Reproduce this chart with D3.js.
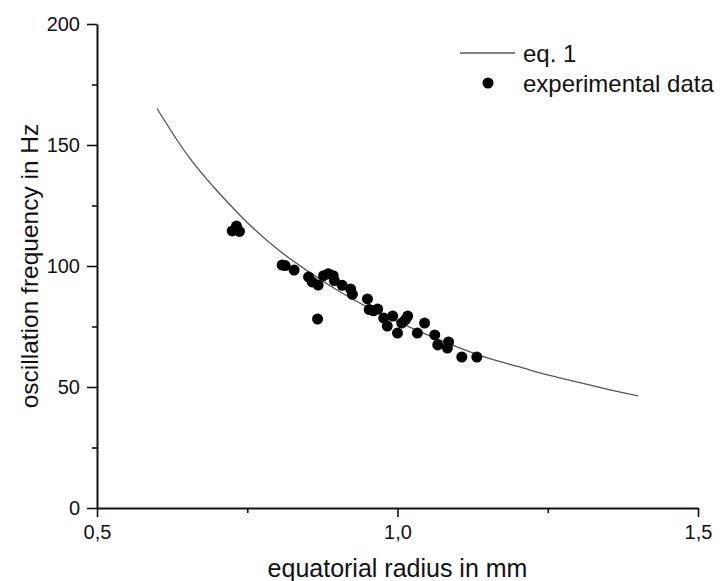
<!DOCTYPE html>
<html>
<head>
<meta charset="utf-8">
<script src="https://cdn.jsdelivr.net/npm/d3@7"></script>
<style>
  body { margin: 0; background: #fff; }
  text { font-family: "Liberation Sans", Arial, sans-serif; fill: #111; }
</style>
</head>
<body>
<div id="chart"></div>
<script>
// equation curve
const curveRadius = [0.6, 0.65, 0.7, 0.75, 0.8, 0.85, 0.9, 0.95, 1.0, 1.05, 1.1, 1.15, 1.2, 1.25, 1.3, 1.35, 1.4];
const curveFreq   = [165, 146, 131, 118, 107, 98, 90, 83, 77, 71.5, 66.5, 62, 58.5, 55, 52, 49, 46.3];

// experimental points
const expRadius = [0.725, 0.732, 0.737, 0.808, 0.813, 0.828, 0.852, 0.858, 0.868, 0.867, 0.877, 0.885,
                   0.893, 0.895, 0.908, 0.922, 0.925, 0.95, 0.953, 0.96, 0.967, 0.977, 0.983, 0.992,
                   1.0, 1.007, 1.013, 1.017, 1.033, 1.045, 1.062, 1.067, 1.083, 1.085, 1.107, 1.132];
const expFreq   = [114.5, 116.5, 114.3, 100.4, 100.2, 98.3, 95.5, 93.4, 92.1, 78.1, 96, 96.8,
                   96, 94, 92, 90.5, 88.3, 86.4, 82, 81.5, 82.2, 78.5, 75.2, 79.3,
                   72.3, 76.4, 77.7, 79.3, 72.3, 76.4, 71.5, 67.4, 66.1, 68.6, 62.4, 62.4];

const xTicks = [0.5, 1.0, 1.5],
      xMinor = [0.75, 1.25],
      yTicks = [0, 50, 100, 150, 200],
      yMinor = [25, 75, 125, 175];

const width = 726,
      height = 581,
      margin = ({ top: 24, right: 28, bottom: 73, left: 97 });

let svg = d3.select("#chart")
    .append("svg")
    .attr("width", width)
    .attr("height", height);

let x = d3.scaleLinear()
    .domain([0.5, 1.5])
    .range([margin.left, width - margin.right]);

let y = d3.scaleLinear()
    .domain([0, 200])
    .range([height - margin.bottom, margin.top]);

// minor ticks first, no domain line
svg.append("g")
    .attr("transform", `translate(0,${y(0)})`)
    .call(d3.axisBottom(x).tickValues(xMinor).tickSize(5).tickFormat(""))
    .call(g => g.select(".domain").remove());

svg.append("g")
    .attr("transform", `translate(${x(0.5)},0)`)
    .call(d3.axisLeft(y).tickValues(yMinor).tickSize(5).tickFormat(""))
    .call(g => g.select(".domain").remove());

let xAxis = svg.append("g")
    .attr("transform", `translate(0,${y(0)})`)
    .call(d3.axisBottom(x).tickValues(xTicks).tickSizeInner(9).tickSizeOuter(0).tickPadding(8)
        .tickFormat(d => d3.format(".1f")(d).replace(".", ",")));

let yAxis = svg.append("g")
    .attr("transform", `translate(${x(0.5)},0)`)
    .call(d3.axisLeft(y).tickValues(yTicks).tickSizeInner(10).tickSizeOuter(0).tickPadding(7));

svg.selectAll(".tick line").attr("stroke", "#111").attr("stroke-width", 1.6);
svg.selectAll(".domain").attr("stroke", "#111").attr("stroke-width", 2);
svg.selectAll(".tick text")
    .style("font-size", "20px")
    .style("font-family", "'Liberation Sans', Arial, sans-serif")
    .attr("fill", "#111");

// eq. 1 line
let line = d3.line()
    .x(d => x(d[0]))
    .y(d => y(d[1]))
    .curve(d3.curveNatural);

svg.append("path")
    .datum(d3.zip(curveRadius, curveFreq))
    .attr("fill", "none")
    .attr("stroke", "#555")
    .attr("stroke-width", 1.3)
    .attr("d", line);

// experimental dots
svg.append("g")
    .selectAll("circle")
    .data(d3.zip(expRadius, expFreq))
    .join("circle")
    .attr("cx", d => x(d[0]))
    .attr("cy", d => y(d[1]))
    .attr("r", 5.5)
    .attr("fill", "#000");

// axis titles
svg.append("text")
    .attr("x", (x(0.5) + x(1.5)) / 2)
    .attr("y", 577)
    .attr("text-anchor", "middle")
    .style("font-size", "25px")
    .text("equatorial radius in mm");

svg.append("text")
    .attr("transform", `translate(38,${(y(0) + y(200)) / 2}) rotate(-90)`)
    .attr("text-anchor", "middle")
    .style("font-size", "24.5px")
    .text("oscillation frequency in Hz");

// legend
let legend = svg.append("g");
legend.append("line")
    .attr("x1", 460).attr("x2", 515)
    .attr("y1", 53).attr("y2", 53)
    .attr("stroke", "#555")
    .attr("stroke-width", 1.3);
legend.append("text")
    .attr("x", 523).attr("y", 62)
    .style("font-size", "24px")
    .text("eq. 1");
legend.append("circle")
    .attr("cx", 488).attr("cy", 83)
    .attr("r", 5.5)
    .attr("fill", "#000");
legend.append("text")
    .attr("x", 523).attr("y", 92)
    .style("font-size", "24px")
    .text("experimental data");
</script>
</body>
</html>
